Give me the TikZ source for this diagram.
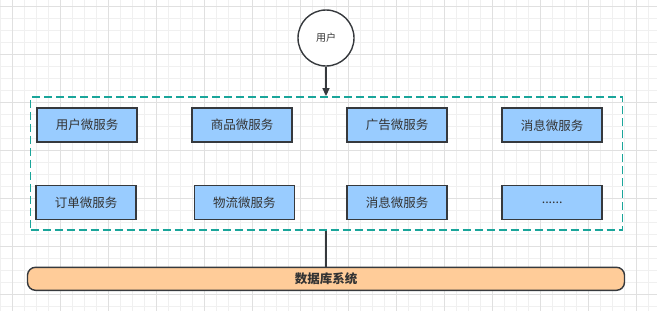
\documentclass[tikz,border=0pt]{standalone}
\usepackage{fontspec}
\setmainfont{Noto Sans CJK SC}
\usepackage{tikz}
\usetikzlibrary{positioning,arrows.meta}
\definecolor{gridminor}{HTML}{F0F0F0}
\definecolor{gridmajor}{HTML}{E0E0E0}
\definecolor{edgegray}{HTML}{36393D}
\definecolor{svcblue}{HTML}{99CCFF}
\definecolor{dborange}{HTML}{FFCC99}
\definecolor{groupteal}{HTML}{1AA59A}
\tikzset{
  flowarrow/.style={-{Triangle[length=8pt,width=7pt]}, line width=1.4pt, draw=edgegray},
  plainline/.style={line width=1.4pt, draw=edgegray},
  usernode/.style={draw=edgegray, line width=1.4pt, circle, fill=white, minimum size=56pt, inner sep=0pt, font=\fontsize{10}{11}\selectfont, text=black!80},
  svcbox/.style={draw=edgegray, line width=1.5pt, fill=svcblue, minimum width=100pt, minimum height=34pt, inner sep=0pt, font=\fontsize{12.5}{14}\selectfont, text=black!80},
  groupbox/.style={draw=groupteal, line width=1.6pt, dash pattern=on 8pt off 4pt, minimum width=592pt, minimum height=133pt, inner sep=0pt},
  dbbar/.style={draw=edgegray, line width=1.4pt, fill=dborange, rounded corners=8pt, minimum width=597pt, minimum height=23pt, inner sep=0pt, font=\fontsize{12.5}{14}\selectfont\bfseries, text=black!80}
}
\begin{document}
\begin{tikzpicture}[x=1pt, y=-1pt]
  \useasboundingbox (0,0) rectangle (657,311);
  % background grid
  \fill[white] (0,0) rectangle (657,311);
  \foreach \gx in {0,12,...,648} \draw[gridminor, line width=0.8pt] (\gx,0) -- (\gx,311);
  \foreach \gy in {6,18,...,306} \draw[gridminor, line width=0.8pt] (0,\gy) -- (657,\gy);
  \foreach \gx in {12,60,...,636} \draw[gridmajor, line width=0.8pt] (\gx,0) -- (\gx,311);
  \foreach \gy in {6,54,...,294} \draw[gridmajor, line width=0.8pt] (0,\gy) -- (657,\gy);

  \node[usernode] (user) at (326,38) {用户};
  \node[groupbox] (group) at (326.6,163.4) {};
  \node[dbbar] (db) at (326,278.8) {数据库系统};

  \node[svcbox] (usersvc) at (87.2,125.2) {用户微服务};
  \node[svcbox] (goodssvc) at (242.2,125.2) {商品微服务};
  \node[svcbox] (adsvc) at (397.2,125.2) {广告微服务};
  \node[svcbox] (msgsvc) at (552.2,125.2) {消息微服务};
  \node[svcbox] (ordersvc) at (86.2,202.5) {订单微服务};
  \node[svcbox] (logisvc) at (244.3,202.5) {物流微服务};
  \node[svcbox] (msgsvc2) at (397.2,202.5) {消息微服务};
  \node[svcbox] (moresvc) at (552.2,202.5) {......};

  \draw[flowarrow] (user) -- (group.north -| user);
  \draw[plainline] (group.south -| db) -- (db.north);
\end{tikzpicture}
\end{document}
